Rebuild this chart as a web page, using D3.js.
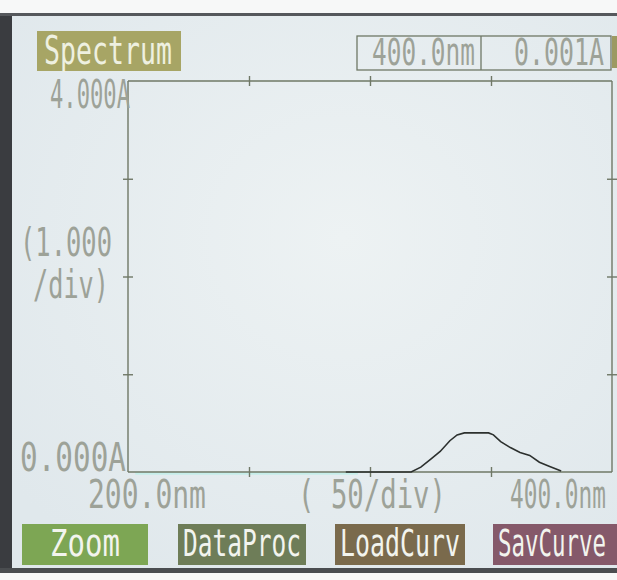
<!DOCTYPE html>
<html>
<head>
    <title>Spectrum</title>
    <style>
        body { margin: 0; background: #ffffff; }
        svg { display: block; }
    </style>
    <script src="https://d3js.org/d3.v7.min.js"></script>
</head>
<body>
    <div id="screen"></div>

    <script>
        // readings taken off the photo of the instrument screen
        var wavelengths = [290, 300, 317, 321, 325, 329, 333, 336, 339, 349, 351, 354, 358, 362, 366, 370, 374, 379];
        var absorbance  = [0, 0, 0, 0.05, 0.13, 0.21, 0.32, 0.38, 0.40, 0.40, 0.38, 0.31, 0.25, 0.20, 0.17, 0.10, 0.06, 0.01];
        var xTicks = [250, 300, 350];
        var yTicks = [1, 2, 3];
        var buttons = ['Zoom', 'DataProc', 'LoadCurv', 'SavCurve'];
        var buttonColors = ['#7da654', '#6e7d58', '#7a6a4c', '#85596a'];

        var W = 617, H = 580;
        var svg = d3.select('#screen').append('svg')
            .attr('width', W)
            .attr('height', H);

        // lcd background with a soft glare
        var defs = svg.append('defs');
        var grad = defs.append('radialGradient').attr('id', 'lcd')
            .attr('cx', '55%').attr('cy', '40%').attr('r', '70%');
        grad.append('stop').attr('offset', '0%').attr('stop-color', '#edf2f3');
        grad.append('stop').attr('offset', '100%').attr('stop-color', '#e0e8ec');

        svg.append('rect').attr('x', 0).attr('y', 0).attr('width', W).attr('height', H).attr('fill', '#f7f8f8');
        svg.append('rect').attr('x', 8).attr('y', 15).attr('width', W - 8).attr('height', 556).attr('fill', 'url(#lcd)');
        // bezel edges
        svg.append('rect').attr('x', 0).attr('y', 13).attr('width', 12).attr('height', 560).attr('fill', '#3a3c40');
        svg.append('rect').attr('x', 0).attr('y', 13).attr('width', W).attr('height', 3).attr('fill', '#55585c');
        svg.append('rect').attr('x', 0).attr('y', 568).attr('width', W).attr('height', 5).attr('fill', '#4a4d50');

        var x = d3.scaleLinear().domain([200, 400]).range([128, 612]);
        var y = d3.scaleLinear().domain([0, 4]).range([472, 81]);

        var ink = '#6f7866';
        var txt = '#9da298';
        var font = 'DejaVu Sans Mono';

        // tall, narrow lcd-style text: stretch vertically, squeeze to width w
        function label(str, x0, yb, w, size, color) {
            var t = svg.append('text')
                .attr('font-family', font)
                .attr('font-size', size)
                .attr('fill', color || txt)
                .text(str);
            var sx = w / t.node().getComputedTextLength();
            t.attr('transform', 'translate(' + x0 + ',' + yb + ') scale(' + sx + ',1.3)');
            return t;
        }

        // header
        svg.append('rect').attr('x', 37).attr('y', 31).attr('width', 144).attr('height', 40).attr('fill', '#a7a565');
        label('Spectrum', 44, 64, 128, 30, '#eef0e0');

        svg.append('rect').attr('x', 357).attr('y', 36).attr('width', 254).attr('height', 34)
            .attr('fill', 'none').attr('stroke', ink).attr('stroke-width', 1.3);
        svg.append('line').attr('x1', 481).attr('x2', 481).attr('y1', 36).attr('y2', 70)
            .attr('stroke', ink).attr('stroke-width', 1.3);
        label('400.0nm', 372, 65, 103, 28);
        label('0.001A', 514, 65, 90, 28);
        svg.append('rect').attr('x', 612).attr('y', 36).attr('width', 5).attr('height', 32).attr('fill', '#9c9a62');

        // plot frame
        svg.append('line').attr('x1', x(200)).attr('x2', x(200)).attr('y1', y(4)).attr('y2', y(0)).attr('stroke', ink).attr('stroke-width', 1.4);
        svg.append('line').attr('x1', x(400)).attr('x2', x(400)).attr('y1', y(4)).attr('y2', y(0)).attr('stroke', ink).attr('stroke-width', 1.4);
        svg.append('line').attr('x1', x(200)).attr('x2', x(400)).attr('y1', y(4)).attr('y2', y(4)).attr('stroke', ink).attr('stroke-width', 1.4);
        // faint glare under the baseline
        svg.append('line').attr('x1', x(203)).attr('x2', x(295)).attr('y1', y(0) + 1.5).attr('y2', y(0) + 1.5)
            .attr('stroke', '#c6eeea').attr('stroke-width', 2.5);
        svg.append('line').attr('x1', x(200)).attr('x2', x(400)).attr('y1', y(0)).attr('y2', y(0)).attr('stroke', ink).attr('stroke-width', 1.4);

        // crossing tick marks
        function ticks(axis, tr) {
            var g = svg.append('g').attr('transform', tr)
                .call(axis.tickSize(10).tickFormat(''));
            g.select('.domain').remove();
            g.selectAll('line').attr('stroke', ink).attr('stroke-width', 1.4);
        }
        ticks(d3.axisBottom(x).tickValues(xTicks), 'translate(0,' + (y(0) - 5) + ')');
        ticks(d3.axisBottom(x).tickValues(xTicks), 'translate(0,' + (y(4) - 5) + ')');
        ticks(d3.axisRight(y).tickValues(yTicks), 'translate(' + (x(200) - 5) + ',0)');
        ticks(d3.axisRight(y).tickValues(yTicks), 'translate(' + (x(400) - 5) + ',0)');

        // spectrum curve
        var line = d3.line()
            .x(function(d, i) { return x(wavelengths[i]); })
            .y(function(d) { return y(d); });
        svg.append('path')
            .datum(absorbance)
            .attr('d', line)
            .attr('fill', 'none')
            .attr('stroke', '#2c302e')
            .attr('stroke-width', 1.6);

        // axis labels
        label('4.000A', 50, 108, 80, 30);
        label('(1.000', 20, 256, 92, 30);
        label('/div)', 33, 298, 76, 30);
        label('0.000A', 20, 471, 106, 30);
        label('200.0nm', 88, 508, 118, 30);
        label('( 50/div)', 298, 508, 148, 30);
        label('400.0nm', 510, 508, 96, 30);

        // soft key buttons
        var bx = [22, 178, 335, 493];
        var bw = [126, 128, 130, 124];
        var tw = [70, 118, 120, 108];
        buttons.forEach(function(b, i) {
            svg.append('rect').attr('x', bx[i]).attr('y', 524).attr('width', bw[i]).attr('height', 41)
                .attr('fill', buttonColors[i]);
            label(b, bx[i] + (i === 0 ? 28 : 5), 556, tw[i], 28, '#f2f4ee');
        });
    </script>
</body>
</html>
